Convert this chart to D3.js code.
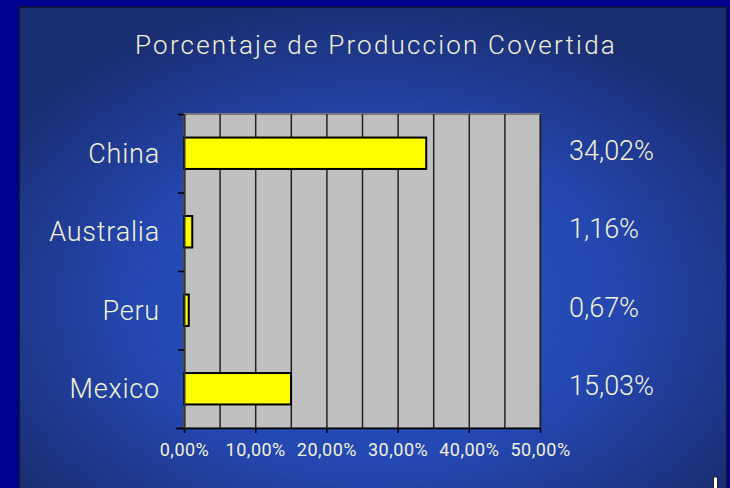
<!DOCTYPE html>
<html>
<head>
<meta charset="utf-8">
<script src="https://cdn.jsdelivr.net/npm/d3@7"></script>
<style>
  body { margin: 0; background: #000090; }
  svg { display: block; }
  text { font-family: Roboto, "DejaVu Sans", sans-serif; font-weight: 300; fill: #f3f1d6; }
</style>
</head>
<body>
<svg id="chart"></svg>
<script>
// chart data
var title = "Porcentaje de Produccion Covertida";
var paises = ["China", "Australia", "Peru", "Mexico"];
var valores = [34.02, 1.16, 0.67, 15.03];
var etiquetas = ["34,02%", "1,16%", "0,67%", "15,03%"];
var xTicks = [0, 10, 20, 30, 40, 50];

var width = 730;
var height = 488;

var margin = {
	top: 114,
	left: 184,
	bottom: 60,
	right: 190
};

var svg = d3.select("#chart")
	.attr("width", width)
	.attr("height", height);

// background slide
var defs = svg.append("defs");
var grad = defs.append("radialGradient")
	.attr("id", "bg")
	.attr("cx", "0.5").attr("cy", "0.6").attr("r", "0.62");
grad.append("stop").attr("offset", "0%").attr("stop-color", "#2b55c8");
grad.append("stop").attr("offset", "55%").attr("stop-color", "#2447b0");
grad.append("stop").attr("offset", "100%").attr("stop-color", "#1a2e72");

svg.append("rect")
	.attr("width", width).attr("height", height)
	.attr("fill", "#000090");

svg.append("rect")
	.attr("x", 19).attr("y", 7)
	.attr("width", 708).attr("height", 490)
	.attr("fill", "url(#bg)")
	.attr("stroke", "#0a0f30")
	.attr("stroke-width", 1.5);

// title
svg.append("text")
	.attr("x", 376)
	.attr("y", 54)
	.attr("text-anchor", "middle")
	.style("font-size", "26px")
	.style("letter-spacing", "2.2px")
	.text(title);

// scales
var xScale = d3.scaleLinear().domain([0, 50]).range([margin.left, 540]);
var yScale = d3.scaleBand().domain(paises).range([margin.top, height - margin.bottom]).paddingInner(0.6).paddingOuter(0.3);
var yBounds = d3.scaleLinear().domain([0, paises.length]).range([margin.top, height - margin.bottom]);

var x0 = xScale(0), x1 = xScale(50);
var y0 = margin.top, y1 = height - margin.bottom;

// plot area
svg.append("rect")
	.attr("x", x0).attr("y", y0)
	.attr("width", x1 - x0).attr("height", y1 - y0)
	.attr("fill", "#c0c0c0")
	.attr("stroke", "#7a7a7a")
	.attr("stroke-width", 2);

// gridlines every 5%
svg.append("g")
	.attr("transform", `translate(0, ${y1})`)
	.call(d3.axisBottom(xScale).ticks(10).tickSize(-(y1 - y0)).tickFormat(""))
	.call(function(g) { g.select(".domain").remove(); })
	.selectAll("line")
	.attr("stroke", "#222")
	.attr("stroke-width", 1.5);

// bars
svg.selectAll(".bar")
	.data(paises)
	.enter().append("rect")
	.attr("class", "bar")
	.attr("x", x0)
	.attr("y", function(d) { return yScale(d); })
	.attr("width", function(d, i) { return xScale(valores[i]) - x0; })
	.attr("height", yScale.bandwidth())
	.attr("fill", "#ffff00")
	.attr("stroke", "#000")
	.attr("stroke-width", 2);

// x axis
var locale = d3.formatLocale({ decimal: ",", thousands: ".", grouping: [3], currency: ["", ""] });
var fmt = locale.format(".2f");

var xAxis = svg.append("g")
	.attr("transform", `translate(0, ${y1})`)
	.call(d3.axisBottom(xScale).tickValues(xTicks).tickSize(5).tickSizeOuter(0).tickFormat(function(d) { return fmt(d) + "%"; }));
xAxis.select(".domain").attr("stroke", "#000").attr("stroke-width", 1.5).attr("d", `M${x0 - 8},0.5H${x1}`);
xAxis.selectAll("line").attr("stroke", "#000").attr("stroke-width", 1.5);
xAxis.selectAll("text")
	.attr("y", 15)
	.style("font-size", "18px")
	.style("font-weight", "400")
	.style("letter-spacing", "0.5px")
	.attr("fill", "#f3f1d6");

// y axis: ticks on category boundaries
var yAxis = svg.append("g")
	.attr("transform", `translate(${x0}, 0)`)
	.call(d3.axisLeft(yBounds).ticks(paises.length).tickSize(6).tickSizeOuter(0).tickFormat(""));
yAxis.select(".domain").attr("stroke", "#333").attr("stroke-width", 2);
yAxis.selectAll("line").attr("stroke", "#000").attr("stroke-width", 1.5);

// category labels
svg.selectAll(".cat")
	.data(paises)
	.enter().append("text")
	.attr("class", "cat")
	.attr("x", 160)
	.attr("y", function(d) { return yScale(d) + yScale.bandwidth() / 2; })
	.attr("dy", "0.36em")
	.attr("text-anchor", "end")
	.style("font-size", "27px")
	.style("letter-spacing", "0.8px")
	.text(function(d) { return d; });

// value labels
svg.selectAll(".val")
	.data(etiquetas)
	.enter().append("text")
	.attr("class", "val")
	.attr("x", 569)
	.attr("y", function(d, i) { return yScale(paises[i]) + yScale.bandwidth() / 2 - 3; })
	.attr("dy", "0.36em")
	.style("font-size", "27px")
	.text(function(d) { return d; });

// small marker at lower right
svg.append("rect")
	.attr("x", 713.5).attr("y", 477)
	.attr("width", 4).attr("height", 14)
	.attr("fill", "#fff")
	.attr("stroke", "#222")
	.attr("stroke-width", 1);
</script>
</body>
</html>
